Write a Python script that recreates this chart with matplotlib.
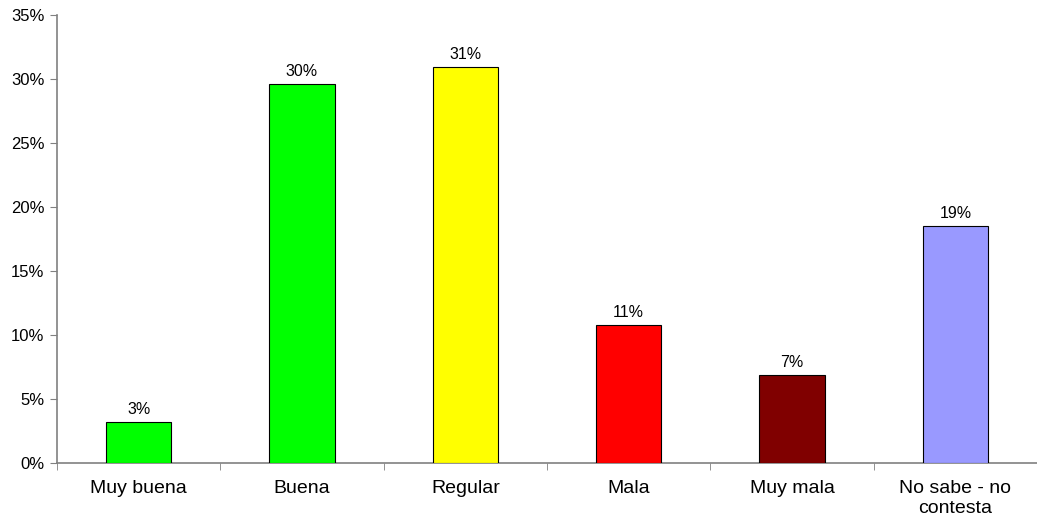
import matplotlib
matplotlib.use("Agg")
import matplotlib.pyplot as plt
import numpy as np

categories = ["Muy buena", "Buena", "Regular", "Mala", "Muy mala", "No sabe - no\ncontesta"]
values = [3.2, 29.6, 30.9, 10.8, 6.9, 18.5]
labels = ["3%", "30%", "31%", "11%", "7%", "19%"]
colors = ["#00FF00", "#00FF00", "#FFFF00", "#FF0000", "#800000", "#9999FF"]

plt.rcParams['font.family'] = ['Liberation Sans', 'DejaVu Sans']

W, H = 1037, 527
fig = plt.figure(figsize=(W / 100, H / 100), dpi=100)
left, bottom, top = 57 / W, 1 - 463 / H, 1 - 15 / H
ax = fig.add_axes([left, bottom, 1 - left, top - bottom])

step = 164.8  # pixels per category
x = np.arange(len(categories))
ax.bar(x, values, width=0.4, color=colors, edgecolor="black", linewidth=0.8, zorder=3)
for xi, v, lab in zip(x, values, labels):
    ax.text(xi, v + 0.4, lab, ha="center", va="bottom", fontsize=11.5)

ax.set_ylim(0, 35)
ax.set_xlim(-0.5, -0.5 + (W - 57) / step)
ax.set_yticks(np.arange(0, 36, 5))
ax.set_yticklabels([f"{t}%" for t in range(0, 36, 5)], fontsize=12)

# category labels centred, tick marks between categories
ax.set_xticks(x)
ax.set_xticklabels(categories, fontsize=14, linespacing=1.25)
ax.tick_params(axis="x", length=0, pad=12)
ax.set_xticks(np.arange(-0.5, len(categories) + 0.5, 1), minor=True)
ax.tick_params(axis="x", which="minor", length=5, color="#808080", direction="out")
ax.tick_params(axis="y", length=5, color="#808080", direction="out", pad=4)

for s in ["top", "right"]:
    ax.spines[s].set_visible(False)
for s in ["left", "bottom"]:
    ax.spines[s].set_color("#808080")
    ax.spines[s].set_linewidth(1.2)

fig.savefig("out.png", dpi=100)
